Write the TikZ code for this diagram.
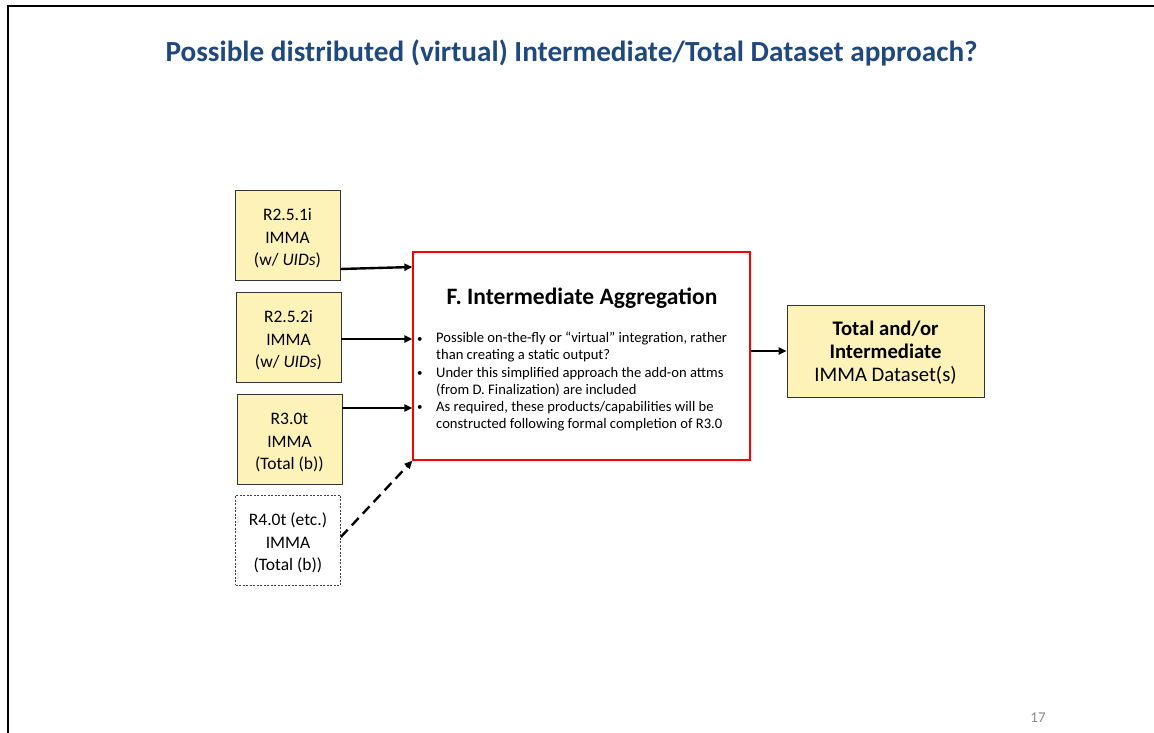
\documentclass[tikz,border=0pt]{standalone}
\usepackage{fontspec}
\setmainfont{Carlito}
\usetikzlibrary{arrows.meta}
\definecolor{titleblue}{HTML}{1F497D}
\definecolor{boxyellow}{HTML}{FDF2B8}
\definecolor{pagegray}{HTML}{8A8A8A}
\newcommand{\smallbullet}{\raisebox{0.1ex}{\scalebox{0.75}{\textbullet}}}
% set a centred block of lines a little lower without changing its reported size
\newcommand{\lowered}[2]{\raisebox{-#1}[\height][\depth]{\begin{tabular}{@{}c@{}}#2\end{tabular}}}
\begin{document}
\begin{tikzpicture}[x=1pt,y=-1pt,
  srcbox/.style={draw=black!80, fill=boxyellow, line width=0.8pt,
    minimum width=105pt, minimum height=90pt, align=center, inner sep=0pt,
    font=\fontsize{17.5}{22.5}\selectfont},
  futurebox/.style={srcbox, fill=white, draw=black!75, line width=0.7pt,
    dash pattern=on 2pt off 1.5pt},
  aggbox/.style={draw=red, line width=1.2pt, fill=white,
    minimum width=337pt, minimum height=208pt, inner sep=0pt},
  outbox/.style={srcbox, minimum width=197pt, minimum height=92pt,
    font=\fontsize{20.7}{23}\selectfont},
  flow/.style={line width=2.4pt, -{Triangle[length=8pt,width=7pt]}},
  dashflow/.style={flow, dash pattern=on 10pt off 6pt}]
\useasboundingbox (0,0) rectangle (1154,733);

% slide frame
\draw[line width=2pt] (8,733) -- (8,6) -- (1154,6);

% heading
\node[font=\fontsize{29.2}{33}\selectfont\bfseries, text=titleblue] (heading) at (571.5,53)
  {Possible distributed (virtual) Intermediate/Total Dataset approach?};

% input releases
\node[srcbox] (r251) at (287.5,235) {\lowered{3.5pt}{R2.5.1i\\IMMA\\(w/ \textit{UIDs})}};
\node[srcbox] (r252) at (288.5,337) {\lowered{3.5pt}{R2.5.2i\\IMMA\\(w/ \textit{UIDs})}};
\node[srcbox] (r30)  at (289.5,439) {\lowered{3.5pt}{R3.0t\\IMMA\\(Total (b))}};
\node[futurebox] (r40) at (288,540) {\lowered{3.5pt}{R4.0t (etc.)\\IMMA\\(Total (b))}};

% aggregation step
\node[aggbox] (agg) at (581.5,356) {};
\node[font=\fontsize{23.5}{27}\selectfont\bfseries] (aggtitle) at (582,298)
  {F. Intermediate Aggregation};
\node[anchor=north west, inner sep=0pt, font=\fontsize{14.6}{17.2}\selectfont] (aggtext) at (417,330.5)
  {\begin{tabular}{@{}p{19pt}@{}l@{}}
   \smallbullet & Possible on-the-fly or “virtual” integration, rather\\
                & than creating a static output?\\
   \smallbullet & Under this simplified approach the add-on attms\\
                & (from D. Finalization) are included\\
   \smallbullet & As required, these products/capabilities will be\\
                & constructed following formal completion of R3.0
   \end{tabular}};

% result
\node[outbox] (out) at (885.5,351)
  {\lowered{3pt}{\textbf{Total and/or}\\\textbf{Intermediate}\\IMMA Dataset(s)}};

% page number
\node[font=\fontsize{15}{17}\selectfont, text=pagegray] (pageno) at (1038,718) {17};

% connectors
\draw[flow] ([yshift=-34pt]r251.east) -- ([yshift=89pt]agg.west);
\draw[flow] ([yshift=-2pt]r252.east) -- ([yshift=17pt]agg.west);
\draw[flow] ([yshift=31pt]r30.east) -- ([yshift=-52pt]agg.west);
\draw[dashflow] ([yshift=3pt]r40.east) -- (agg.south west);
\draw[flow] ([yshift=5pt]agg.east) -- (out.west);
\end{tikzpicture}
\end{document}
